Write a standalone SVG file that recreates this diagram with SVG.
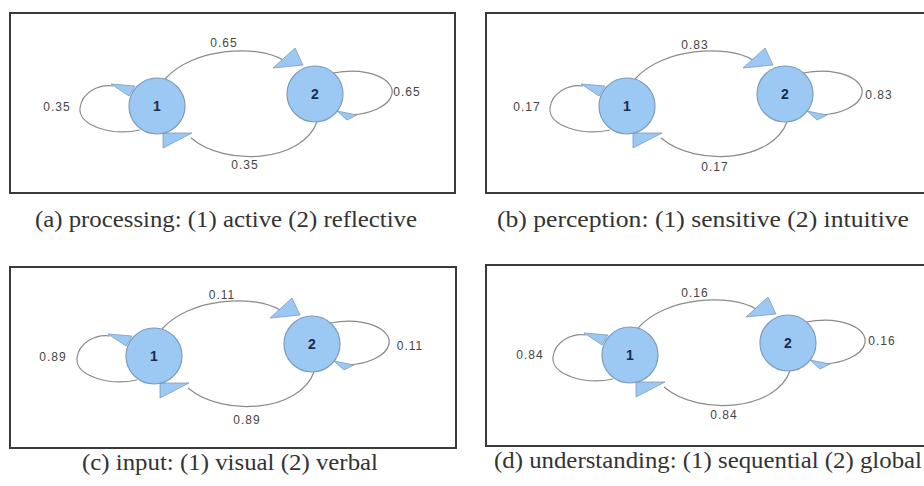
<svg xmlns="http://www.w3.org/2000/svg" width="924" height="486" viewBox="0 0 924 486">
<style>
.frame{fill:#fff;stroke:#3a3a3a;stroke-width:2}
.edge{fill:none;stroke:#8a8a8a;stroke-width:1.2}
.head{fill:#9cc9f3;stroke:#7d9bbd;stroke-width:0.8}
.node{fill:#9cc9f3;stroke:#7d9bbd;stroke-width:1.2}
.nl{font-family:"Liberation Sans",Arial,sans-serif;font-size:14px;fill:#1d2b4a;text-anchor:middle;font-weight:bold}
.el{font-family:"Liberation Sans",Arial,sans-serif;font-size:12px;fill:#444;text-anchor:middle;letter-spacing:1px}
.cap{font-family:"Liberation Serif","Times New Roman",serif;font-size:23px;fill:#333}
</style>
<defs>
<g id="edges">
<path class="edge" d="M 8,-27 C 35,-58 100,-62 126,-46"/>
<polygon class="head" points="138,-58 146,-41 116,-38"/>
<path class="edge" d="M 160,16 C 146,55 70,62 34,32"/>
<polygon class="head" points="6,27 35,27 6,42"/>
<path class="edge" d="M -17,24 C -45,30 -79,20 -77,2 C -75,-14 -58,-22 -44,-20"/>
<polygon class="head" points="-46,-22 -22,-20 -28,-10"/>
<path class="edge" d="M 176,-33 C 212,-40 238,-26 235,-12 C 232,1 212,8 194,9"/>
<polygon class="head" points="180,5 200,9 190,14"/>
</g>
</defs>

<!-- frames -->
<rect class="frame" x="10" y="13" width="445" height="180"/>
<rect class="frame" x="486" y="13" width="450" height="180"/>
<rect class="frame" x="10" y="267" width="446" height="181"/>
<rect class="frame" x="486" y="265" width="450" height="181"/>

<!-- connectors -->
<g id="connectors">
<use href="#edges" transform="translate(157,106)"/>
<use href="#edges" transform="translate(627,106)"/>
<use href="#edges" transform="translate(154,356)"/>
<use href="#edges" transform="translate(630,355)"/>
</g>

<!-- edge labels -->
<g id="edge-labels">
<text class="el" x="224" y="47">0.65</text>
<text class="el" x="57" y="111">0.35</text>
<text class="el" x="407" y="96">0.65</text>
<text class="el" x="245" y="169">0.35</text>

<text class="el" x="695" y="49">0.83</text>
<text class="el" x="527" y="111">0.17</text>
<text class="el" x="879" y="99">0.83</text>
<text class="el" x="715" y="171">0.17</text>

<text class="el" x="222" y="299">0.11</text>
<text class="el" x="53" y="361">0.89</text>
<text class="el" x="410" y="350">0.11</text>
<text class="el" x="247" y="424">0.89</text>

<text class="el" x="695" y="297">0.16</text>
<text class="el" x="530" y="359">0.84</text>
<text class="el" x="882" y="345">0.16</text>
<text class="el" x="724" y="419">0.84</text>
</g>

<!-- nodes -->
<g id="a-node1"><circle class="node" cx="157" cy="106" r="28"/><text class="nl" x="157" y="111">1</text></g>
<g id="a-node2"><circle class="node" cx="315" cy="94" r="28"/><text class="nl" x="315" y="99">2</text></g>
<g id="b-node1"><circle class="node" cx="627" cy="106" r="28"/><text class="nl" x="627" y="111">1</text></g>
<g id="b-node2"><circle class="node" cx="785" cy="94" r="28"/><text class="nl" x="785" y="99">2</text></g>
<g id="c-node1"><circle class="node" cx="154" cy="356" r="28"/><text class="nl" x="154" y="361">1</text></g>
<g id="c-node2"><circle class="node" cx="312" cy="344" r="28"/><text class="nl" x="312" y="349">2</text></g>
<g id="d-node1"><circle class="node" cx="630" cy="355" r="28"/><text class="nl" x="630" y="360">1</text></g>
<g id="d-node2"><circle class="node" cx="788" cy="343" r="28"/><text class="nl" x="788" y="348">2</text></g>

<!-- captions -->
<text class="cap" x="35" y="227" textLength="382" lengthAdjust="spacingAndGlyphs">(a) processing: (1) active (2) reflective</text>
<text class="cap" x="497" y="227" textLength="412" lengthAdjust="spacingAndGlyphs">(b) perception: (1) sensitive (2) intuitive</text>
<text class="cap" x="82" y="470" textLength="296" lengthAdjust="spacingAndGlyphs">(c) input: (1) visual (2) verbal</text>
<text class="cap" x="494" y="468" textLength="428" lengthAdjust="spacingAndGlyphs">(d) understanding: (1) sequential (2) global</text>
</svg>
